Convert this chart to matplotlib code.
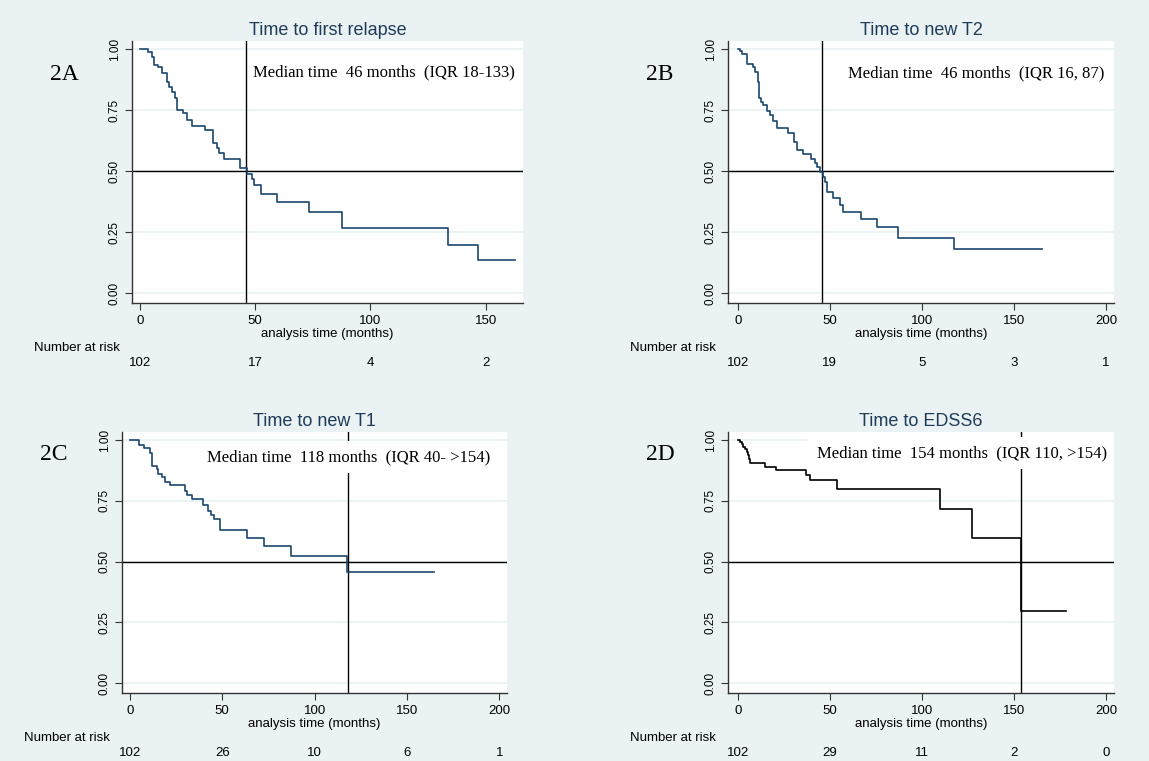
import matplotlib
matplotlib.use("Agg")
import matplotlib.pyplot as plt

# Kaplan-Meier steps (months, survival)
a_time = [0, 3.3, 5.1, 6.1, 8.0, 9.7, 11.6, 12.6, 13.7, 15.2, 16.2, 18.5, 20.3, 22.4, 28.2,
          31.8, 33.3, 34.4, 36.6, 43.4, 46.3, 48.5, 49.5, 52.5, 59.3, 73.5, 87.5, 133.8, 146.8, 162.7]
a_surv = [1.0, 0.989, 0.969, 0.935, 0.925, 0.900, 0.866, 0.846, 0.825, 0.798, 0.750, 0.737, 0.709, 0.686, 0.668,
          0.614, 0.593, 0.573, 0.550, 0.512, 0.488, 0.468, 0.443, 0.407, 0.372, 0.332, 0.266, 0.198, 0.134, 0.134]

b_time = [0, 1.3, 2.5, 4.9, 8.5, 9.4, 11.2, 11.8, 12.7, 13.9, 15.7, 17.6, 19.0, 21.5, 27.5, 30.8, 32.0,
          35.7, 39.8, 42.0, 43.3, 44.7, 46.5, 47.4, 48.7, 51.9, 55.6, 57.4, 67.0, 75.5, 87.2, 117.6, 165.1]
b_surv = [1.0, 0.99, 0.98, 0.94, 0.925, 0.907, 0.866, 0.798, 0.784, 0.77, 0.748, 0.73, 0.707, 0.675, 0.655, 0.621, 0.587,
          0.569, 0.55, 0.532, 0.516, 0.498, 0.477, 0.457, 0.413, 0.389, 0.362, 0.334, 0.303, 0.270, 0.225, 0.181, 0.181]

c_time = [0, 4.9, 7.6, 10.8, 12.1, 14.4, 15.3, 17.1, 19.0, 21.7, 29.8, 31.0, 33.4, 39.7, 42.4, 43.7,
          45.5, 48.7, 63.5, 72.6, 87.0, 117.3, 164.6]
c_surv = [1.0, 0.98, 0.966, 0.945, 0.894, 0.88, 0.86, 0.846, 0.828, 0.814, 0.791, 0.775, 0.757, 0.734, 0.709, 0.693,
          0.673, 0.63, 0.598, 0.562, 0.521, 0.455, 0.455]

d_time = [0, 1.3, 2.2, 3.1, 4.0, 4.9, 5.4, 6.3, 6.7, 14.8, 20.8, 36.9, 39.3, 53.8, 109.9, 127.1, 153.8, 178.1]
d_surv = [1.0, 0.993, 0.984, 0.973, 0.962, 0.952, 0.94, 0.92, 0.905, 0.891, 0.876, 0.857, 0.835, 0.798,
          0.716, 0.597, 0.298, 0.298]

titles = ["Time to first relapse", "Time to new T2", "Time to new T1", "Time to EDSS6"]
panel_labels = ["2A", "2B", "2C", "2D"]
medians = [46, 46, 118, 154]
notes = ["Median time  46 months  (IQR 18-133)",
         "Median time  46 months  (IQR 16, 87)",
         "Median time  118 months  (IQR 40- >154)",
         "Median time  154 months  (IQR 110, >154)"]
note_pos = [(49, 0.906), (60, 0.902), (42, 0.93), (43, 0.947)]
xticks_a = [0, 50, 100, 150]
xticks_other = [0, 50, 100, 150, 200]
at_risk = [[102, 17, 4, 2], [102, 19, 5, 3, 1], [102, 26, 10, 6, 1], [102, 29, 11, 2, 0]]

bg = "#eaf2f3"
navy = "#1a476f"
plt.rcParams["font.family"] = ["Liberation Sans", "DejaVu Sans"]

fig = plt.figure(figsize=(11.49, 7.61), dpi=100, facecolor=bg)

# axes rectangles in pixels: left, top, right, bottom
W, H = 1149, 761
rects = [(132, 41, 523, 303), (728, 41, 1114, 303), (122, 432, 507, 693), (728, 432, 1114, 693)]
xlims = [(-3.5, 166.2), (-5.3, 204.4), (-4.3, 204.2), (-5.3, 204.4)]
series = [(a_time, a_surv, navy), (b_time, b_surv, navy), (c_time, c_surv, navy), (d_time, d_surv, "black")]

for i in range(4):
    l, t, r, b = rects[i]
    ax = fig.add_axes([l / W, 1 - b / H, (r - l) / W, (b - t) / H])
    ax.set_facecolor("white")
    times, surv, col = series[i]
    ax.plot(times, surv, drawstyle="steps-post", color=col, lw=1.2, zorder=5)
    ax.axhline(0.5, color="black", lw=1.0, zorder=2)
    ax.axvline(medians[i], color="black", lw=1.0, zorder=2)

    ax.set_xlim(*xlims[i])
    ax.set_ylim(-0.041, 1.033)
    ticks = xticks_a if i == 0 else xticks_other
    ax.set_xticks(ticks)
    ax.set_yticks([0, 0.25, 0.5, 0.75, 1.0])
    ax.set_yticklabels(["0.00", "0.25", "0.50", "0.75", "1.00"], rotation=90, va="center")
    ax.tick_params(axis="x", labelsize=9.5, length=5, pad=4, color="#333333")
    ax.tick_params(axis="y", labelsize=8.5, length=5, pad=3, color="#333333")
    ax.grid(axis="y", color=bg, lw=1.3, zorder=0)
    ax.set_axisbelow(True)
    for side in ["top", "right"]:
        ax.spines[side].set_visible(False)
    for side in ["left", "bottom"]:
        ax.spines[side].set_color("#333333")
        ax.spines[side].set_linewidth(1.0)

    ax.set_xlabel("analysis time (months)", fontsize=9.5, labelpad=0)
    ax.set_title(titles[i], fontsize=13, color="#1e3b5a", pad=4)

    nx, ny = note_pos[i]
    kw = {}
    if i >= 2:
        kw = dict(bbox=dict(boxstyle="square,pad=0.5", facecolor="white", edgecolor="none"))
    ax.text(nx, ny, notes[i], family=["Liberation Serif", "DejaVu Serif"], fontsize=12,
            ha="left", va="center", zorder=4, clip_on=True, **kw)

    fig.text((l - 68) / W, 1 - (t + 33) / H if i < 2 else 1 - (t + 23) / H, panel_labels[i],
             family=["Liberation Serif", "DejaVu Serif"], fontsize=17, ha="center", va="center")

    # number at risk table
    fig.text((l - 98) / W, 1 - (b + 45) / H, "Number at risk", fontsize=9.5, ha="left", va="center")
    trans = ax.get_xaxis_transform()
    ypos = -60 / (b - t)
    for x, n in zip(ticks, at_risk[i]):
        ax.text(x, ypos, str(n), transform=trans, fontsize=9.5, ha="center", va="center", clip_on=False)

fig.savefig("out.png", dpi=100, facecolor=bg)
